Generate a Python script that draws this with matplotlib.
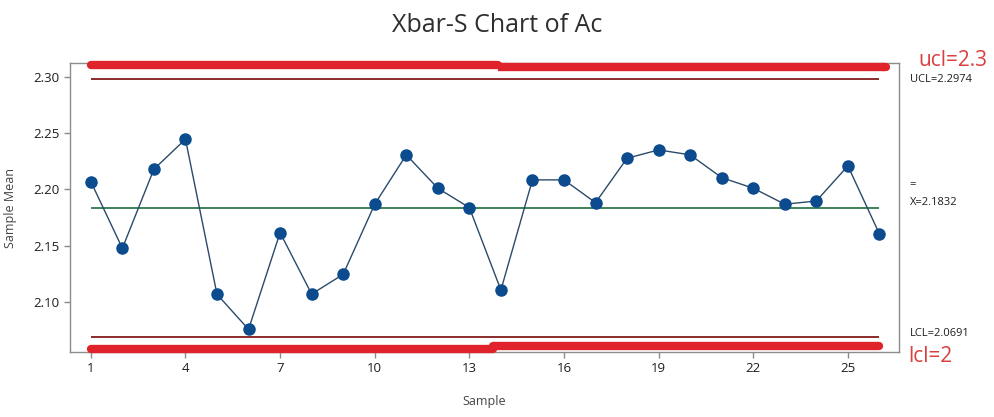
import matplotlib
matplotlib.use("Agg")
import matplotlib.pyplot as plt
import matplotlib.transforms as mtransforms

plt.rcParams['font.family'] = ['Open Sans', 'DejaVu Sans']

# subgroup means
samples = list(range(1, 27))
means = [2.2068, 2.1476, 2.2178, 2.2444, 2.1068, 2.0757, 2.1615, 2.1070, 2.1245,
         2.1867, 2.2305, 2.2009, 2.1837, 2.1106, 2.2083, 2.2083, 2.1881, 2.2275,
         2.2349, 2.2305, 2.2103, 2.2009, 2.1867, 2.1896, 2.2207, 2.1603]

ucl = 2.2974
center = 2.1832
lcl = 2.0691
spec_ucl = 2.3
spec_lcl = 2

xticks = [1, 4, 7, 10, 13, 16, 19, 22, 25]
yticks = [2.10, 2.15, 2.20, 2.25, 2.30]

fig = plt.figure(figsize=(9.94, 4.17), dpi=100)
ax = fig.add_axes([70 / 994, 1 - 352 / 417, 829 / 994, 289 / 417])

ax.set_xlim(0.34, 26.62)
ax.set_ylim(2.0556, 2.312)

ax.hlines([ucl, lcl], 1, 26, color='#8a2c2c', lw=1.4, zorder=2)
ax.hlines(center, 1, 26, color='#2f7a4a', lw=1.3, zorder=2)
ax.plot(samples, means, color='#2b4a6a', lw=1, marker='o', ms=8,
        mfc='#0b4b8e', mec='#0b4b8e', zorder=4)

# hand-drawn spec limit strokes along the plot edges
edge = mtransforms.blended_transform_factory(ax.transData, ax.transAxes)
red = '#e0232b'
strokes = [([1, 13.9], 0.994, 'round'),
           ([13.9, 26.15], 0.987, 'butt'),
           ([26.1, 26.2], 0.987, 'round'),
           ([1, 13.75], 0.012, 'round'),
           ([13.75, 26], 0.020, 'round')]
for xs, yy, cap in strokes:
    ax.plot(xs, [yy, yy], color=red, lw=6, solid_capstyle=cap,
            transform=edge, clip_on=False, zorder=5)

for s in ax.spines.values():
    s.set_color('#8c8c8c')
    s.set_linewidth(1)

ax.set_xticks(xticks)
ax.set_yticks(yticks)
ax.set_yticklabels(['%.2f' % v for v in yticks])
ax.tick_params(axis='both', colors='#8c8c8c', labelcolor='#1e1e1e',
               labelsize=9.5, length=4, width=1)

ax.set_xlabel('Sample', fontsize=9, color='#444444', labelpad=14)
ax.set_ylabel('Sample Mean', fontsize=9, color='#444444', labelpad=12)

fig.text(0.5, 0.94, 'Xbar-S Chart of Ac', ha='center', va='center',
         fontsize=18, color='#2e2e2e')

# limit labels on the right
rt = mtransforms.blended_transform_factory(ax.transAxes, ax.transData)
ax.text(1.013, ucl, 'UCL=2.2974', transform=rt, fontsize=8,
        color='#1e1e1e', va='center', ha='left')
ax.text(1.013, center, '=\nX=2.1832', transform=rt, fontsize=8,
        color='#1e1e1e', va='bottom', ha='left', linespacing=1.9)
ax.text(1.013, lcl + 0.003, 'LCL=2.0691', transform=rt, fontsize=8,
        color='#1e1e1e', va='center', ha='left')
fig.text(918 / 994, 1 - 60 / 417, 'ucl=%s' % spec_ucl, fontsize=15,
         color='#d9403f', va='center', ha='left')
fig.text(908 / 994, 1 - 356 / 417, 'lcl=%d' % spec_lcl, fontsize=15,
         color='#d9403f', va='center', ha='left')

fig.savefig('out.png', dpi=100)
